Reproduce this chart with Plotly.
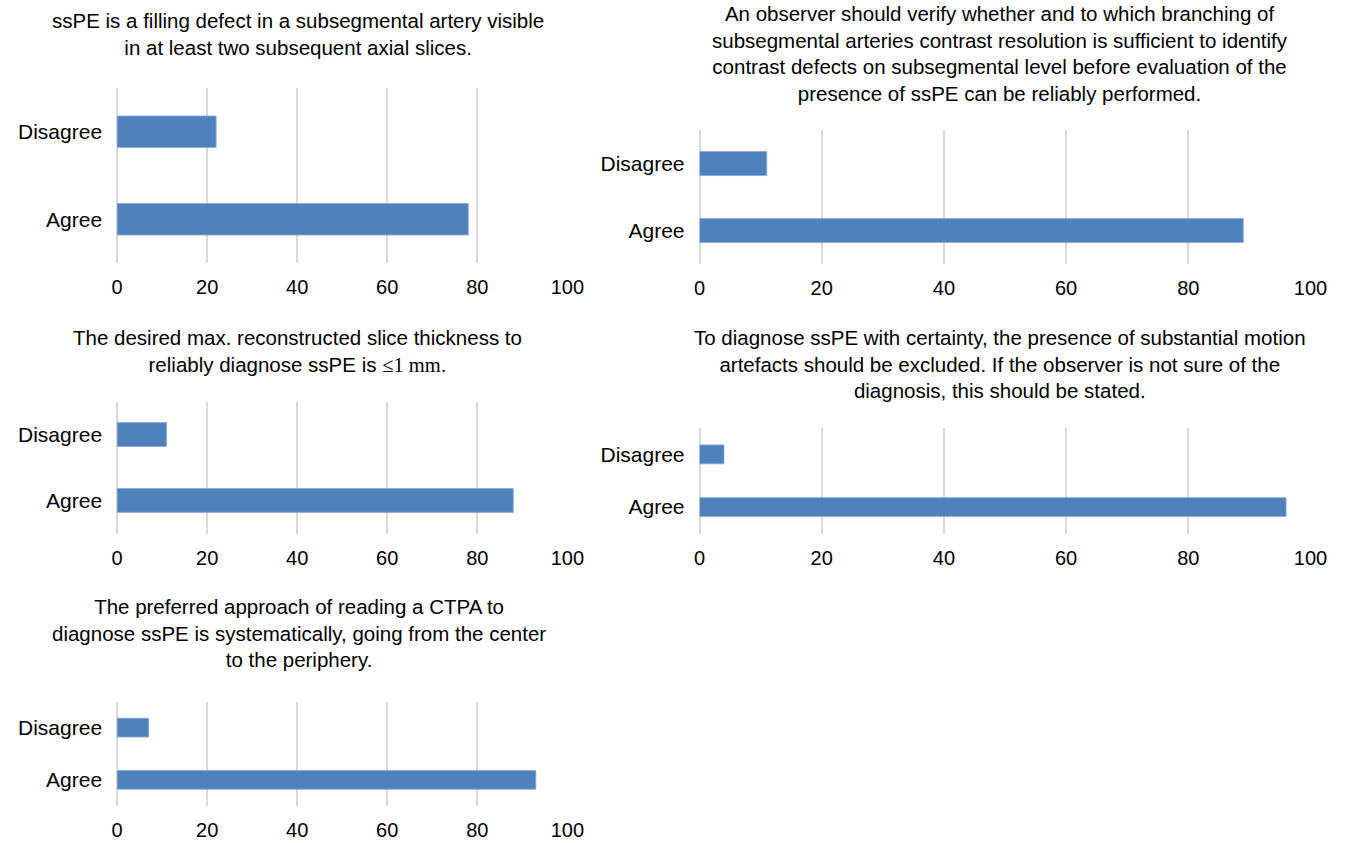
import plotly.graph_objects as go

categories = ["Agree", "Disagree"]
p1_values = [78, 22]
p2_values = [89, 11]
p3_values = [88, 11]
p4_values = [96, 4]
p5_values = [93, 7]
x_ticks = [0, 20, 40, 60, 80, 100]

titles = [
    "ssPE is a filling defect in a subsegmental artery visible<br>in at least two subsequent axial slices.",
    "An observer should verify whether and to which branching of<br>subsegmental arteries contrast resolution is sufficient to identify<br>contrast defects on subsegmental level before evaluation of the<br>presence of ssPE can be reliably performed.",
    "The desired max. reconstructed slice thickness to<br>reliably diagnose ssPE is <span style=\"font-family:'Liberation Serif'\">≤1 mm</span>.",
    "To diagnose ssPE with certainty, the presence of substantial motion<br>artefacts should be excluded. If the observer is not sure of the<br>diagnosis, this should be stated.",
    "The preferred approach of reading a CTPA to<br>diagnose ssPE is systematically, going from the center<br>to the periphery.",
]
all_values = [p1_values, p2_values, p3_values, p4_values, p5_values]

W, H = 1357, 843
# panel layout in pixels: (x0, x1, ytop, ybottom, title_center_x, title_center_y)
panels = [
    (113, 571, 88, 263, 297, 33.5),
    (705.5, 1327, 130, 264, 1011, 53.5),
    (113, 571, 401.5, 533.5, 297, 351),
    (705.5, 1327, 428, 533.5, 1011, 364),
    (113, 571, 701.5, 806, 298, 633),
]

FONT = "Liberation Sans, Arial, Helvetica, sans-serif"
BAR = "#4f81bd"
GRID = "#d9d9d9"

fig = go.Figure()
annotations = []
for i, (vals, (x0, x1, yt, yb, tx, ty)) in enumerate(zip(all_values, panels)):
    n = "" if i == 0 else str(i + 1)
    fig.add_trace(go.Bar(
        x=vals, y=categories, orientation="h",
        marker=dict(color=BAR, line=dict(color="#86a9d6", width=0.8)),
        xaxis="x" + n, yaxis="y" + n, showlegend=False, hoverinfo="x+y",
    ))
    fig.layout["xaxis" + n] = dict(
        domain=[x0 / W, x1 / W], range=[0, 100], tickvals=x_ticks,
        showgrid=True, gridcolor=GRID, gridwidth=1.5,
        zeroline=True, zerolinecolor=GRID, zerolinewidth=1.5,
        showline=False, ticks="", anchor="y" + n,
        tickfont=dict(size=20, color="black", family=FONT),
        ticklabelstandoff=10, fixedrange=True,
    )
    fig.layout["yaxis" + n] = dict(
        domain=[1 - yb / H, 1 - yt / H], type="category",
        categoryorder="array", categoryarray=categories,
        showgrid=False, zeroline=False, showline=False, ticks="",
        anchor="x" + n, tickfont=dict(size=21, color="black", family=FONT),
        ticklabelstandoff=14, fixedrange=True,
    )
    annotations.append(dict(
        text=titles[i], x=tx / W, y=1 - ty / H, xref="paper", yref="paper",
        xanchor="center", yanchor="middle", showarrow=False, align="center",
        font=dict(size=20.5, color="black", family=FONT),
    ))

fig.update_layout(
    width=W, height=H, margin=dict(l=0, r=0, t=0, b=0),
    paper_bgcolor="white", plot_bgcolor="white",
    bargap=0.64, annotations=annotations,
    font=dict(family=FONT, color="black"),
)

fig.write_html(
    "out.html",
    config={"displayModeBar": False},
    post_script="document.body.style.margin='0';document.body.style.overflow='hidden';",
)
